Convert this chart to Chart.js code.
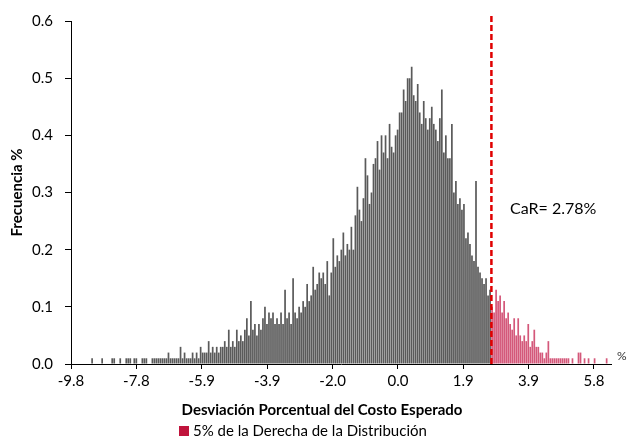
<!DOCTYPE html>
<html lang="es">
<head>
  <meta charset="UTF-8" />
  <title>Costo en Riesgo</title>
  <style>
    body {
      margin: 0;
      background: #fff;
    }
    canvas {
      display: block;
    }
  </style>
</head>
<body>
  <canvas id="carChart" width="629" height="438"></canvas>

  <script src="https://cdn.jsdelivr.net/npm/chart.js"></script>
  <script>
    // Histograma: desviación porcentual (%) vs frecuencia (%)
    const binStart = -9.77;
    const binWidth = 0.06;
    const freq = [
      0, 0, 0, 0, 0, 0, 0, 0, 0, 0,
      0.01, 0, 0, 0, 0, 0.01, 0, 0, 0, 0,
      0.01, 0.01, 0, 0, 0.01, 0, 0, 0.01, 0.01, 0.01,
      0, 0.01, 0.01, 0, 0, 0.01, 0.01, 0.01, 0, 0,
      0.01, 0.01, 0.01, 0.01, 0.01, 0.01, 0.01, 0.01, 0.02, 0.01,
      0.01, 0.01, 0.01, 0.01, 0.03, 0.01, 0.02, 0.01, 0.01, 0.01,
      0.02, 0.01, 0.02, 0.01, 0.03, 0.02, 0.02, 0.02, 0.04, 0.02,
      0.03, 0.02, 0.03, 0.02, 0.03, 0.03, 0.04, 0.03, 0.06, 0.03,
      0.04, 0.03, 0.06, 0.04, 0.05, 0.04, 0.06, 0.08, 0.05, 0.11,
      0.06, 0.07, 0.05, 0.07, 0.06, 0.08, 0.10, 0.07, 0.09, 0.08,
      0.09, 0.07, 0.08, 0.07, 0.09, 0.07, 0.13, 0.08, 0.09, 0.07,
      0.15, 0.09, 0.08, 0.10, 0.09, 0.11, 0.10, 0.14, 0.11, 0.12,
      0.17, 0.13, 0.14, 0.16, 0.15, 0.16, 0.14, 0.18, 0.12, 0.16,
      0.22, 0.17, 0.19, 0.18, 0.20, 0.23, 0.19, 0.21, 0.20, 0.24,
      0.20, 0.26, 0.31, 0.27, 0.25, 0.29, 0.36, 0.33, 0.28, 0.30,
      0.35, 0.36, 0.39, 0.34, 0.40, 0.37, 0.40, 0.36, 0.42, 0.38,
      0.37, 0.40, 0.41, 0.44, 0.44, 0.48, 0.46, 0.50, 0.50, 0.52,
      0.47, 0.46, 0.49, 0.44, 0.42, 0.46, 0.43, 0.41, 0.43, 0.45,
      0.42, 0.41, 0.39, 0.43, 0.48, 0.37, 0.40, 0.36, 0.36, 0.42,
      0.30, 0.32, 0.28, 0.29, 0.27, 0.28, 0.22, 0.23, 0.21, 0.19,
      0.18, 0.32, 0.17, 0.16, 0.15, 0.14, 0.15, 0.12, 0.13, 0.10,
      0.09, 0.13, 0.11, 0.12, 0.09, 0.11, 0.08, 0.09, 0.07, 0.06,
      0.08, 0.05, 0.08, 0.05, 0.04, 0.05, 0.04, 0.07, 0.03, 0.04,
      0.06, 0.03, 0.03, 0.02, 0.02, 0.01, 0.02, 0.04, 0.01, 0.01,
      0.01, 0.01, 0.01, 0.01, 0.01, 0.01, 0.01, 0.01, 0, 0.01,
      0, 0, 0.02, 0.02, 0, 0.01, 0, 0.01, 0, 0,
      0.01, 0, 0, 0, 0, 0, 0.01, 0
    ];
    const carValue = 2.78;

    // Etiquetas del eje X (como en el original) y su posición
    const tickPositions = [-9.77, -7.82, -5.87, -3.91, -1.96, -0.01, 1.94, 3.89, 5.84];
    const tickLabels = ['-9.8', '-7.8', '-5.9', '-3.9', '-2.0', '0.0', '1.9', '3.9', '5.8'];
    const xMin = -9.77;
    const xMax = 6.35;

    const binCenters = freq.map((_, i) => +(binStart + binWidth * (i + 0.5)).toFixed(3));
    const greyData = freq.map((v, i) => binCenters[i] <= carValue ? v : null);
    const redData = freq.map((v, i) => binCenters[i] > carValue ? v : null);

    const fontFamily = "Lato, 'Open Sans', sans-serif";
    Chart.defaults.font.family = fontFamily;
    Chart.defaults.font.size = 15;
    Chart.defaults.color = '#000';

    // Línea CaR, textos sueltos, título del eje X y leyenda
    const extras = {
      id: 'extras',
      afterDatasetsDraw(chart) {
        const { ctx, chartArea, scales } = chart;
        const x = scales.x.getPixelForValue(carValue);
        ctx.save();
        ctx.strokeStyle = '#e00000';
        ctx.lineWidth = 2.5;
        ctx.setLineDash([6, 3]);
        ctx.beginPath();
        ctx.moveTo(x, chartArea.top - 5);
        ctx.lineTo(x, chartArea.bottom);
        ctx.stroke();
        ctx.restore();
      },
      afterDraw(chart) {
        const { ctx, chartArea } = chart;
        ctx.save();
        ctx.fillStyle = '#000';
        ctx.textBaseline = 'middle';

        ctx.font = '16px ' + fontFamily;
        ctx.textAlign = 'left';
        ctx.fillText('CaR= ' + carValue.toFixed(2) + '%', 510, 209);

        ctx.font = '12px ' + fontFamily;
        ctx.fillStyle = '#333';
        ctx.fillText('%', chartArea.right + 6, chartArea.bottom - 8);

        ctx.fillStyle = '#000';
        ctx.font = 'bold 15px ' + fontFamily;
        ctx.textAlign = 'center';
        ctx.fillText('Desviación Porcentual del Costo Esperado', 322, 410);

        ctx.fillStyle = '#c0143c';
        ctx.fillRect(179, 426, 10, 10);
        ctx.fillStyle = '#000';
        ctx.font = '15px ' + fontFamily;
        ctx.textAlign = 'left';
        ctx.fillText('5% de la Derecha de la Distribución', 193, 431);
        ctx.restore();
      }
    };

    const config = {
      type: 'bar',
      data: {
        labels: binCenters,
        datasets: [
          {
            label: 'Distribución',
            data: greyData,
            backgroundColor: '#5a5a5a',
            grouped: false,
            barPercentage: 1,
            categoryPercentage: 0.85
          },
          {
            label: '5% de la Derecha de la Distribución',
            data: redData,
            backgroundColor: '#d4587a',
            grouped: false,
            barPercentage: 1,
            categoryPercentage: 0.85
          }
        ]
      },
      options: {
        responsive: false,
        animation: false,
        layout: {
          padding: { top: 12, right: 18, bottom: 0, left: 0 }
        },
        scales: {
          x: {
            type: 'linear',
            min: xMin,
            max: xMax,
            offset: false,
            grid: {
              offset: false,
              drawOnChartArea: false,
              drawTicks: true,
              tickLength: 5,
              color: '#000'
            },
            border: { color: '#000', width: 1 },
            ticks: {
              autoSkip: false,
              maxRotation: 0,
              padding: 3,
              callback: function(value, index) {
                return tickLabels[index];
              }
            },
            afterBuildTicks: function(scale) {
              scale.ticks = tickPositions.map(v => ({ value: v }));
            },
            afterFit: function(scale) {
              scale.height = 74;
            }
          },
          y: {
            min: 0,
            max: 0.6,
            grid: {
              drawOnChartArea: false,
              drawTicks: true,
              tickLength: 6,
              color: '#000'
            },
            border: { color: '#000', width: 1 },
            ticks: {
              stepSize: 0.1,
              padding: 12,
              callback: function(value) {
                return value.toFixed(1);
              }
            },
            title: {
              display: true,
              text: 'Frecuencia %',
              font: { weight: 'bold', size: 15 },
              padding: { top: 8, bottom: 0 }
            },
            afterFit: function(scale) {
              scale.width = 71;
            }
          }
        },
        plugins: {
          legend: { display: false },
          tooltip: { enabled: false }
        }
      },
      plugins: [extras]
    };

    const carChart = new Chart(document.getElementById('carChart'), config);
  </script>
</body>
</html>
